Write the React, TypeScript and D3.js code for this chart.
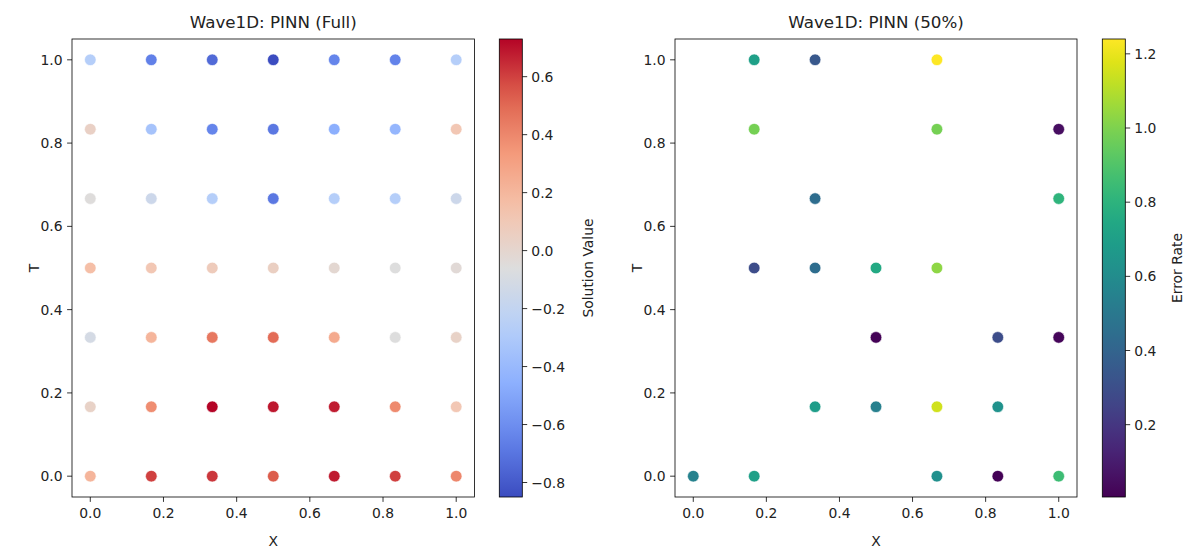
import React from 'react'
import * as d3 from 'd3'

// grid coordinates (X and T share the same 7 levels)
const gridLevels = [0, 0.1667, 0.3333, 0.5, 0.6667, 0.8333, 1.0]

// left panel: solution value per T row (T = 0 ... 1), one value per X level
const solT0 = [0.21, 0.6, 0.62, 0.54, 0.68, 0.6, 0.4]
const solT1 = [0.03, 0.38, 0.73, 0.69, 0.68, 0.39, 0.11]
const solT2 = [-0.11, 0.21, 0.45, 0.49, 0.26, -0.06, 0.03]
const solT3 = [0.16, 0.11, 0.08, 0.05, -0.01, -0.06, -0.03]
const solT4 = [-0.05, -0.15, -0.27, -0.69, -0.27, -0.27, -0.15]
const solT5 = [0.04, -0.34, -0.64, -0.69, -0.46, -0.42, 0.11]
const solT6 = [-0.27, -0.66, -0.74, -0.85, -0.64, -0.65, -0.27]
const solRows = [solT0, solT1, solT2, solT3, solT4, solT5, solT6]

// right panel: sampled points (50%)
const errX = [0.1667, 0.3333, 0.6667, 0.1667, 0.6667, 1.0, 0.3333, 1.0, 0.1667, 0.3333, 0.5, 0.6667, 0.5, 0.8333, 1.0, 0.3333, 0.5, 0.6667, 0.8333, 0, 0.1667, 0.6667, 0.8333, 1.0]
const errT = [1.0, 1.0, 1.0, 0.8333, 0.8333, 0.8333, 0.6667, 0.6667, 0.5, 0.5, 0.5, 0.5, 0.3333, 0.3333, 0.3333, 0.1667, 0.1667, 0.1667, 0.1667, 0, 0, 0, 0, 0]
const errVal = [0.7, 0.34, 1.24, 0.98, 0.98, 0.05, 0.44, 0.81, 0.29, 0.44, 0.75, 1.03, 0.01, 0.29, 0.02, 0.69, 0.54, 1.15, 0.63, 0.55, 0.7, 0.62, 0.01, 0.85]

const axisTicks = [0, 0.2, 0.4, 0.6, 0.8, 1.0]
const solTicks = [-0.8, -0.6, -0.4, -0.2, 0, 0.2, 0.4, 0.6]
const errTicks = [0.2, 0.4, 0.6, 0.8, 1.0, 1.2]
const solDomain = [-0.85, 0.73]
const errDomain = [0.005, 1.24]

const coolwarmStops = ['#3b4cc0', '#6282ea', '#8db0fe', '#b8d0f9', '#dddddd', '#f5c4ad', '#f49a7b', '#de604d', '#b40426']
const coolwarm = d3.piecewise(d3.interpolateRgb, coolwarmStops)

const FONT = 'DejaVu Sans, sans-serif'
const TOP = 39
const BOTTOM = 497

function Panel({ left, right, title, points, color, domain, cbLeft, cbTicks, cbLabel, cbLabelX }) {
  const x = d3.scaleLinear().domain([-0.05, 1.05]).range([left, right])
  const y = d3.scaleLinear().domain([-0.05, 1.05]).range([BOTTOM, TOP])
  const cb = d3.scaleLinear().domain(domain).range([BOTTOM, TOP])
  const gid = 'g' + cbLeft
  const stops = d3.range(0, 1.0001, 0.05)
  return (
    <g>
      <defs>
        <linearGradient id={gid} x1="0" y1="1" x2="0" y2="0">
          {stops.map(s => <stop key={s} offset={s} stopColor={color(domain[0] + s * (domain[1] - domain[0]))} />)}
        </linearGradient>
      </defs>
      <text x={(left + right) / 2} y={28} textAnchor="middle" fontSize={16.7} fill="#222">{title}</text>
      {points.map((p, i) => (
        <circle key={i} cx={x(p.x)} cy={y(p.t)} r={5.8} fill={color(p.v)} stroke="#fff" strokeWidth={0.6} />
      ))}
      <rect x={left} y={TOP} width={right - left} height={BOTTOM - TOP} fill="none" stroke="#000" strokeWidth={0.8} />
      {axisTicks.map(t => (
        <g key={'x' + t}>
          <line x1={x(t)} x2={x(t)} y1={BOTTOM} y2={BOTTOM + 4.9} stroke="#000" strokeWidth={0.8} />
          <text x={x(t)} y={BOTTOM + 21} textAnchor="middle" fontSize={13.9} fill="#222">{t.toFixed(1)}</text>
        </g>
      ))}
      {axisTicks.map(t => (
        <g key={'y' + t}>
          <line x1={left} x2={left - 4.9} y1={y(t)} y2={y(t)} stroke="#000" strokeWidth={0.8} />
          <text x={left - 9.5} y={y(t) + 5} textAnchor="end" fontSize={13.9} fill="#222">{t.toFixed(1)}</text>
        </g>
      ))}
      <text x={(left + right) / 2} y={546} textAnchor="middle" fontSize={13.9} fill="#222">X</text>
      <text transform={`translate(${left - 33},${(TOP + BOTTOM) / 2}) rotate(-90)`} textAnchor="middle" fontSize={13.9} fill="#222">T</text>
      <rect x={cbLeft} y={TOP} width={23} height={BOTTOM - TOP} fill={`url(#${gid})`} stroke="#000" strokeWidth={0.8} />
      {cbTicks.map(t => (
        <g key={'c' + t}>
          <line x1={cbLeft + 23} x2={cbLeft + 27.9} y1={cb(t)} y2={cb(t)} stroke="#000" strokeWidth={0.8} />
          <text x={cbLeft + 32} y={cb(t) + 5} fontSize={13.9} fill="#222">{d3.format('.1f')(t).replace('-', '\u2212')}</text>
        </g>
      ))}
      <text transform={`translate(${cbLabelX},${(TOP + BOTTOM) / 2}) rotate(-90)`} textAnchor="middle" fontSize={13.9} fill="#222">{cbLabel}</text>
    </g>
  )
}

export default function App() {
  const solPoints = []
  solRows.forEach((row, ti) => row.forEach((v, xi) => solPoints.push({ x: gridLevels[xi], t: gridLevels[ti], v })))
  const errPoints = errVal.map((v, i) => ({ x: errX[i], t: errT[i], v }))
  const solColor = d3.scaleSequential(coolwarm).domain(solDomain)
  const errColor = d3.scaleSequential(d3.interpolateViridis).domain(errDomain)

  return (
    <svg width={1188} height={548} style={{ position: 'absolute', left: 0, top: 0, fontFamily: FONT }}>
      <rect width={1188} height={548} fill="#fff" />
      <Panel left={72} right={474.5} title="Wave1D: PINN (Full)" points={solPoints} color={solColor}
        domain={solDomain} cbLeft={499.3} cbTicks={solTicks} cbLabel="Solution Value" cbLabelX={593} />
      <Panel left={675} right={1077} title="Wave1D: PINN (50%)" points={errPoints} color={errColor}
        domain={errDomain} cbLeft={1102.3} cbTicks={errTicks} cbLabel="Error Rate" cbLabelX={1182} />
    </svg>
  )
}
